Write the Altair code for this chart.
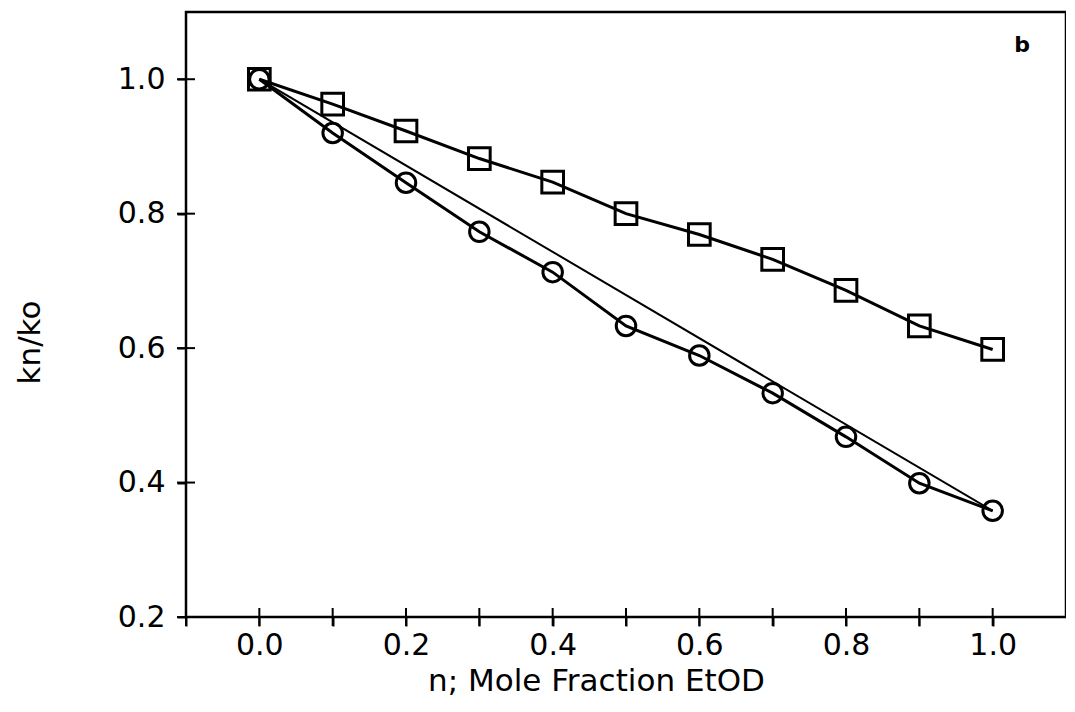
import altair as alt
import pandas as pd

# ---- data ----
n_values = [0.0, 0.1, 0.2, 0.3, 0.4, 0.5, 0.6, 0.7, 0.8, 0.9, 1.0]
square_kn_ko = [1.0, 0.963, 0.923, 0.882, 0.847, 0.800, 0.769, 0.732, 0.686, 0.633, 0.598]
circle_kn_ko = [1.0, 0.920, 0.846, 0.773, 0.713, 0.633, 0.589, 0.533, 0.468, 0.399, 0.358]
ref_n = [0.0, 1.0]
ref_kn_ko = [1.0, 0.358]
x_tick_values = [-0.1, 0.0, 0.1, 0.2, 0.3, 0.4, 0.5, 0.6, 0.7, 0.8, 0.9, 1.0]
y_tick_values = [0.2, 0.4, 0.6, 0.8, 1.0]
x_min, x_max = -0.1, 1.1
y_min, y_max = 0.2, 1.1
panel_label = ["b"]

FONT = "DejaVu Sans"

sq = pd.DataFrame({"n": n_values, "k": square_kn_ko})
ci = pd.DataFrame({"n": n_values, "k": circle_kn_ko})
ref = pd.DataFrame({"n": ref_n, "k": ref_kn_ko})
lab = pd.DataFrame({"t": panel_label})
xt = pd.DataFrame({"v": x_tick_values, "base": [y_min] * len(x_tick_values)})
yt = pd.DataFrame({"v": y_tick_values, "base": [x_min] * len(y_tick_values)})

xscale = alt.Scale(domain=[x_min, x_max], nice=False, zero=False)
yscale = alt.Scale(domain=[y_min, y_max], nice=False, zero=False)

label_expr = "abs(round(datum.value*10)) % 2 == 0 ? format(datum.value, '.1f') : ''"

x_main = alt.Axis(values=x_tick_values, labelExpr=label_expr, title="n; Mole Fraction EtOD",
                  grid=False, domain=False, tickSize=9, tickWidth=2, tickColor="black",
                  labelFont=FONT, labelFontSize=30, labelColor="black", labelPadding=4,
                  titleFont=FONT, titleFontSize=31, titleFontWeight="normal", titleColor="black",
                  titlePadding=6, titleX=410, orient="bottom")
y_main = alt.Axis(values=y_tick_values, format=".1f", title="kn/ko",
                  grid=False, domain=False, tickSize=9, tickWidth=2, tickColor="black",
                  labelFont=FONT, labelFontSize=30, labelColor="black", labelPadding=12,
                  titleFont=FONT, titleFontSize=31, titleFontWeight="normal", titleColor="black",
                  titleX=-140, titleY=330, orient="left")

ref_line = alt.Chart(ref).mark_line(color="black", strokeWidth=2).encode(
    x=alt.X("n:Q", scale=xscale, axis=x_main),
    y=alt.Y("k:Q", scale=yscale, axis=y_main),
)

# crossing tick marks drawn as short stroke symbols centred on the axes
x_ticks = alt.Chart(xt).mark_point(shape="stroke", size=324, angle=90, filled=False,
                                   color="black", strokeWidth=2, opacity=1).encode(
    x=alt.X("v:Q", scale=xscale),
    y=alt.Y("base:Q", scale=yscale),
)
y_ticks = alt.Chart(yt).mark_point(shape="stroke", size=324, angle=0, filled=False,
                                   color="black", strokeWidth=2, opacity=1).encode(
    y=alt.Y("v:Q", scale=yscale),
    x=alt.X("base:Q", scale=xscale),
)

sq_line = alt.Chart(sq).mark_line(color="black", strokeWidth=3).encode(
    x=alt.X("n:Q", scale=xscale),
    y=alt.Y("k:Q", scale=yscale),
)
sq_pts = alt.Chart(sq).mark_point(shape="square", size=470, filled=False, color="black",
                                  strokeWidth=3, opacity=1).encode(
    x=alt.X("n:Q", scale=xscale),
    y=alt.Y("k:Q", scale=yscale),
)

ci_line = alt.Chart(ci).mark_line(color="black", strokeWidth=3).encode(
    x=alt.X("n:Q", scale=xscale),
    y=alt.Y("k:Q", scale=yscale),
)
ci_pts = alt.Chart(ci).mark_point(shape="circle", size=380, filled=False, color="black",
                                  strokeWidth=3, opacity=1).encode(
    x=alt.X("n:Q", scale=xscale),
    y=alt.Y("k:Q", scale=yscale),
)

label = alt.Chart(lab).mark_text(font=FONT, fontSize=22, fontWeight="bold", color="black").encode(
    text="t:N",
    x=alt.value(836),
    y=alt.value(33),
)

chart = alt.layer(ref_line, x_ticks, y_ticks, sq_line, sq_pts, ci_line, ci_pts, label).properties(
    width=880,
    height=605,
    autosize=alt.AutoSizeParams(type="none"),
    padding={"left": 178, "top": 4, "right": 0, "bottom": 90},
    background="white",
).configure_view(stroke="black", strokeWidth=2.5)

chart.save("out.html", embed_options={"renderer": "svg", "actions": False})
